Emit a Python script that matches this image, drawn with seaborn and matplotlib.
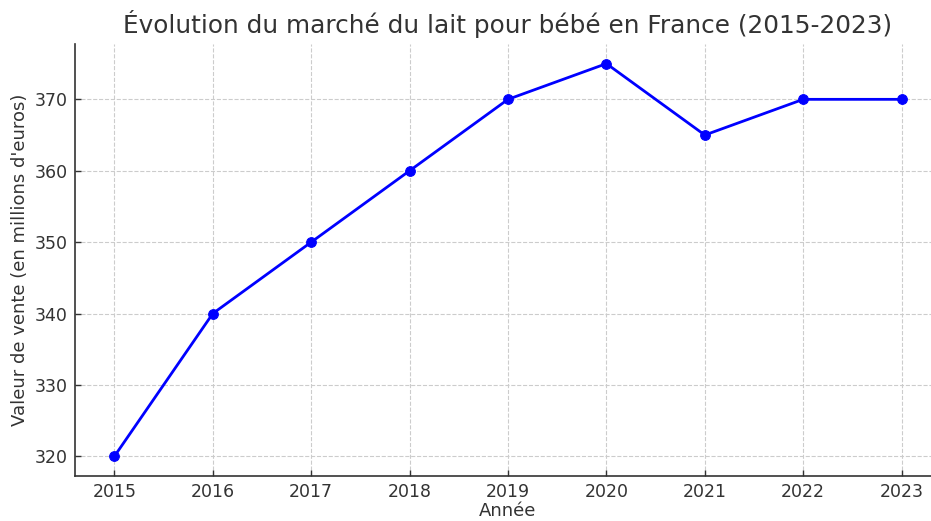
import pandas as pd
import matplotlib.pyplot as plt
import seaborn as sns

annees = [2015, 2016, 2017, 2018, 2019, 2020, 2021, 2022, 2023]
valeurs = [320, 340, 350, 360, 370, 375, 365, 370, 370]

df = pd.DataFrame({"Année": annees, "Valeur": valeurs})

sns.set_theme(style="whitegrid")
plt.rcParams['font.family'] = ['DejaVu Sans']
text_color = '#333333'

fig = plt.figure(figsize=(9.31, 5.21), dpi=100)
ax = fig.add_axes([75 / 931, 45 / 521, 866 / 931, 432 / 521])

sns.lineplot(data=df, x="Année", y="Valeur", marker='o', color='blue',
             linewidth=2, markersize=7, markeredgecolor='blue', ax=ax)

ax.set_title("Évolution du marché du lait pour bébé en France (2015-2023)",
             fontsize=17.8, color=text_color, pad=8)
ax.set_xlabel("Année", fontsize=13, color=text_color, labelpad=1)
ax.set_ylabel("Valeur de vente (en millions d'euros)", fontsize=13, color=text_color)
ax.set_xticks(annees)
ax.set_yticks([320, 330, 340, 350, 360, 370])
ax.tick_params(axis='both', labelsize=12.5, labelcolor=text_color, direction='in',
               length=4, width=1, color=text_color, bottom=True, left=True, pad=5)
ax.set_xlim(2014.6, 2023.4)
ax.set_ylim(317.25, 377.75)

ax.grid(True, linestyle='--', color='#cccccc', linewidth=0.8)
ax.set_facecolor('white')
for side in ['top', 'right']:
    ax.spines[side].set_visible(False)
for side in ['left', 'bottom']:
    ax.spines[side].set_color(text_color)
    ax.spines[side].set_linewidth(1.2)

fig.savefig("out.png", dpi=100, facecolor='white')
